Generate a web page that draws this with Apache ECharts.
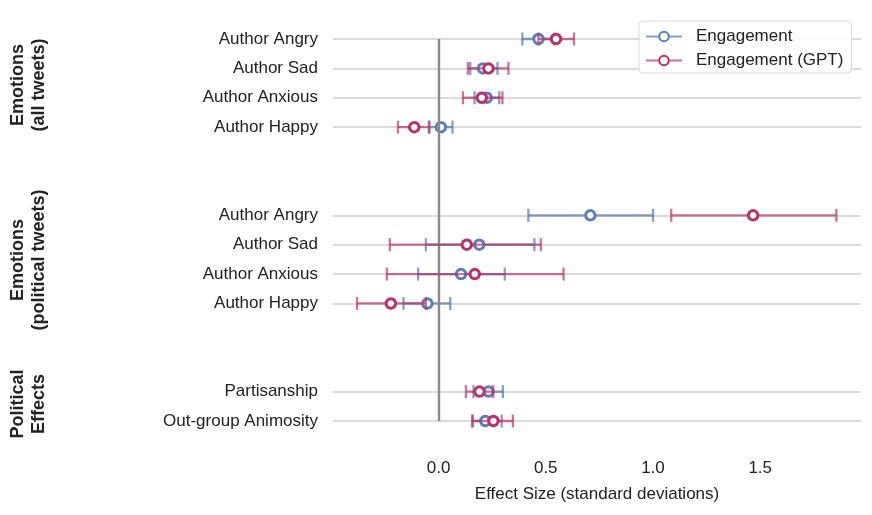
<!DOCTYPE html>
<html>
<head>
<meta charset="utf-8">
<script src="https://cdn.jsdelivr.net/npm/echarts@6/dist/echarts.min.js"></script>
<style>html,body{margin:0;padding:0;background:#fff}#c{width:872px;height:515px}</style>
</head>
<body>
<div id="c"></div>
<script>
// ---- data (gaps are empty rows) ----
const rowLabels = ['Author Angry','Author Sad','Author Anxious','Author Happy','','',
  'Author Angry','Author Sad','Author Anxious','Author Happy','','',
  'Partisanship','Out-group Animosity'];
const groupLabels = ['Emotions\n(all tweets)', 'Emotions\n(political tweets)', 'Political\nEffects'];
const xTicks = [0, 0.5, 1.0, 1.5];

const engMean = [0.466, 0.207, 0.225, 0.011, null, null, 0.708, 0.190, 0.105, -0.052, null, null, 0.233, 0.218];
const engLo   = [0.391, 0.148, 0.168, -0.045, null, null, 0.419, -0.059, -0.095, -0.163, null, null, 0.163, 0.156];
const engHi   = [0.540, 0.275, 0.283, 0.065, null, null, 1.000, 0.447, 0.309, 0.055, null, null, 0.300, 0.295];

const gptMean = [0.548, 0.233, 0.202, -0.113, null, null, 1.467, 0.132, 0.169, -0.222, null, null, 0.191, 0.256];
const gptLo   = [0.466, 0.137, 0.114, -0.189, null, null, 1.085, -0.227, -0.241, -0.380, null, null, 0.128, 0.160];
const gptHi   = [0.632, 0.326, 0.298, -0.042, null, null, 1.855, 0.477, 0.583, -0.059, null, null, 0.255, 0.347];

// ---- styling ----
const FONT = "'Liberation Sans', Arial, Helvetica, sans-serif";
const FS = 17;
const TXT = '#222222';
const BLUE = '#5a7fc0', BLUE_L = 'rgba(76,114,176,0.68)';
const RED = '#bd2f66', RED_L = 'rgba(190,45,100,0.68)';

const cats = rowLabels.map((r, i) => r === '' ? '__gap' + i : r);
const isRow = (i) => rowLabels[i] !== '';

function pts(mean) { return mean.map((m, i) => m === null ? null : [m, i]).filter(Boolean); }
function errs(lo, hi) { return lo.map((l, i) => l === null ? null : [l, hi[i], i]).filter(Boolean); }

function errRender(color) {
  return function (params, api) {
    const y = api.value(2);
    const p1 = api.coord([api.value(0), y]);
    const p2 = api.coord([api.value(1), y]);
    const h = 6.5;
    const st = { stroke: color, lineWidth: 2.3 };
    return { type: 'group', children: [
      { type: 'line', shape: { x1: p1[0], y1: p1[1], x2: p2[0], y2: p2[1] }, style: st },
      { type: 'line', shape: { x1: p1[0], y1: p1[1] - h, x2: p1[0], y2: p1[1] + h }, style: st },
      { type: 'line', shape: { x1: p2[0], y1: p2[1] - h, x2: p2[0], y2: p2[1] + h }, style: st }
    ]};
  };
}

const chart = echarts.init(document.getElementById('c'), null, { renderer: 'canvas' });
chart.setOption({
  animation: false,
  backgroundColor: '#fff',
  grid: { left: 333, right: 11, top: 39, bottom: 94, containLabel: false },
  legend: {
    orient: 'vertical', left: 639, top: 21,
    data: ['Engagement', 'Engagement (GPT)'],
    itemWidth: 36, itemHeight: 12, itemGap: 7,
    padding: [7, 8, 4, 6],
    borderColor: '#d9d9d9', borderWidth: 1, borderRadius: 4,
    backgroundColor: 'rgba(255,255,255,0.9)',
    textStyle: { fontFamily: FONT, fontSize: FS, color: TXT, padding: [0, 0, 0, 9] }
  },
  xAxis: {
    type: 'value', min: -0.492, max: 1.97,
    axisLine: { show: false }, axisTick: { show: false }, splitLine: { show: false },
    axisLabel: { customValues: xTicks, formatter: v => v.toFixed(1), fontFamily: FONT, fontSize: FS, color: TXT, margin: 39 },
    name: 'Effect Size (standard deviations)', nameLocation: 'middle', nameGap: 65,
    nameTextStyle: { fontFamily: FONT, fontSize: FS, color: TXT }
  },
  yAxis: {
    type: 'category', data: cats, inverse: true, boundaryGap: false,
    axisLine: { show: false }, axisTick: { show: false },
    axisLabel: { interval: (i) => isRow(i), formatter: (v, i) => rowLabels[i], fontFamily: FONT, fontSize: FS, color: TXT, margin: 15 },
    splitLine: { show: true, interval: (i) => isRow(i), lineStyle: { color: '#cfcfcf', width: 1.6 } }
  },
  graphic: [
    { type: 'text', x: 29, y: 85, rotation: Math.PI / 2, style: { text: groupLabels[0], font: "bold 18px " + FONT, fill: TXT, align: 'center', verticalAlign: 'middle', lineHeight: 21 } },
    { type: 'text', x: 29, y: 260, rotation: Math.PI / 2, style: { text: groupLabels[1], font: "bold 18px " + FONT, fill: TXT, align: 'center', verticalAlign: 'middle', lineHeight: 21 } },
    { type: 'text', x: 29, y: 404, rotation: Math.PI / 2, style: { text: groupLabels[2], font: "bold 18px " + FONT, fill: TXT, align: 'center', verticalAlign: 'middle', lineHeight: 21 } }
  ],
  series: [
    { type: 'line', name: 'Engagement', data: [], symbol: 'circle', symbolSize: 9,
      itemStyle: { color: '#fff', borderColor: BLUE, borderWidth: 2.5 }, lineStyle: { color: BLUE_L, width: 2.2 },
      markLine: { silent: true, symbol: 'none', label: { show: false }, lineStyle: { color: '#8a8a8a', width: 2.4, type: 'solid' }, data: [{ xAxis: 0 }] } },
    { type: 'line', name: 'Engagement (GPT)', data: [], symbol: 'circle', symbolSize: 9,
      itemStyle: { color: '#fff', borderColor: RED, borderWidth: 2.5 }, lineStyle: { color: RED_L, width: 2.2 } },
    { type: 'custom', name: 'Engagement', renderItem: errRender(BLUE_L), data: errs(engLo, engHi), encode: { x: [0, 1], y: 2 }, z: 3 },
    { type: 'scatter', name: 'Engagement', data: pts(engMean), symbol: 'circle', symbolSize: 9.5,
      itemStyle: { color: '#fff', borderColor: BLUE, borderWidth: 3, opacity: 1 }, z: 4 },
    { type: 'custom', name: 'Engagement (GPT)', renderItem: errRender(RED_L), data: errs(gptLo, gptHi), encode: { x: [0, 1], y: 2 }, z: 5 },
    { type: 'scatter', name: 'Engagement (GPT)', data: pts(gptMean), symbol: 'circle', symbolSize: 9.5,
      itemStyle: { color: '#fff', borderColor: RED, borderWidth: 3, opacity: 1 }, z: 6 }
  ]
});
</script>
</body>
</html>
